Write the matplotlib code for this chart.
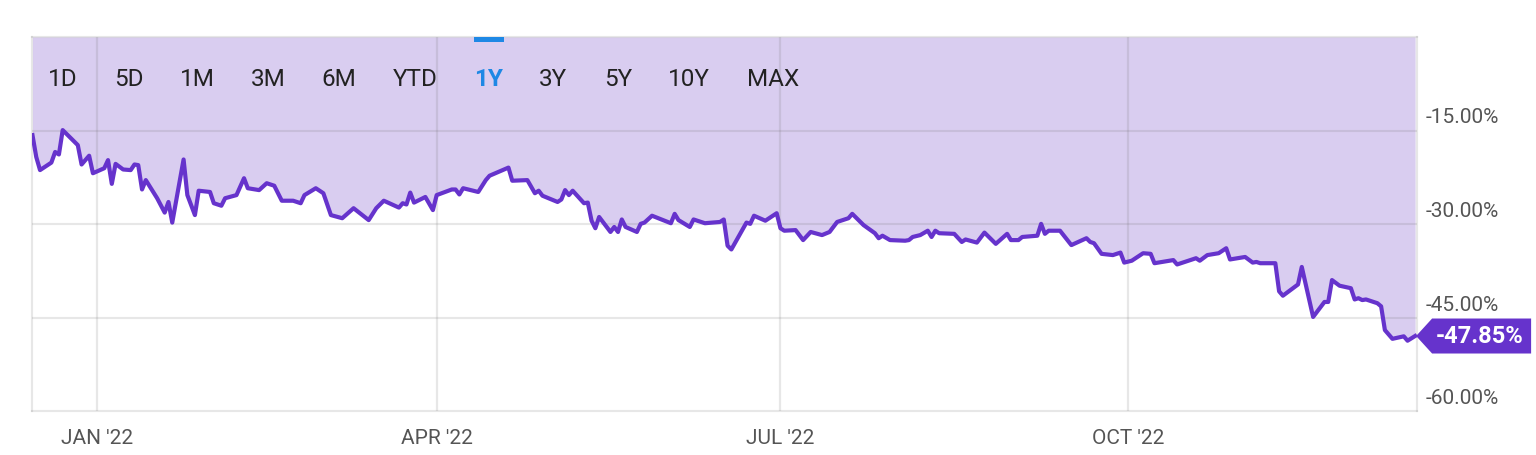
import matplotlib.pyplot as plt
import matplotlib.dates as mdates
from matplotlib.patches import Polygon, Rectangle
from matplotlib.transforms import IdentityTransform
import pandas as pd

plt.rcParams['font.family'] = ['Roboto', 'DejaVu Sans']

# price change over one year, %
dates = [
    '2021-12-15', '2021-12-16', '2021-12-17', '2021-12-20', '2021-12-21', '2021-12-22',
    '2021-12-23', '2021-12-27', '2021-12-28', '2021-12-30', '2021-12-31', '2022-01-03',
    '2022-01-04', '2022-01-05', '2022-01-06', '2022-01-08', '2022-01-10', '2022-01-11',
    '2022-01-12', '2022-01-13', '2022-01-14', '2022-01-17', '2022-01-19', '2022-01-20',
    '2022-01-21', '2022-01-24', '2022-01-25', '2022-01-27', '2022-01-28', '2022-01-31',
    '2022-02-01', '2022-02-03', '2022-02-04', '2022-02-07', '2022-02-09', '2022-02-10',
    '2022-02-13', '2022-02-15', '2022-02-17', '2022-02-19', '2022-02-22', '2022-02-24',
    '2022-02-25', '2022-02-28', '2022-03-02', '2022-03-04', '2022-03-07', '2022-03-10',
    '2022-03-14', '2022-03-16', '2022-03-18', '2022-03-22', '2022-03-23', '2022-03-24',
    '2022-03-25', '2022-03-26', '2022-03-29', '2022-03-31', '2022-04-01', '2022-04-05',
    '2022-04-06', '2022-04-07', '2022-04-08', '2022-04-12', '2022-04-14', '2022-04-15',
    '2022-04-20', '2022-04-21', '2022-04-25', '2022-04-27', '2022-04-28', '2022-04-29',
    '2022-05-03', '2022-05-04', '2022-05-05', '2022-05-06', '2022-05-07', '2022-05-10',
    '2022-05-11', '2022-05-12', '2022-05-13', '2022-05-14', '2022-05-17', '2022-05-18',
    '2022-05-19', '2022-05-20', '2022-05-21', '2022-05-24', '2022-05-25', '2022-05-26',
    '2022-05-28', '2022-06-02', '2022-06-03', '2022-06-04', '2022-06-07', '2022-06-08',
    '2022-06-11', '2022-06-15', '2022-06-16', '2022-06-17', '2022-06-18', '2022-06-22',
    '2022-06-23', '2022-06-24', '2022-06-27', '2022-06-30', '2022-07-01', '2022-07-02',
    '2022-07-05', '2022-07-07', '2022-07-09', '2022-07-12', '2022-07-14', '2022-07-16',
    '2022-07-19', '2022-07-20', '2022-07-23', '2022-07-26', '2022-07-27', '2022-07-28',
    '2022-07-30', '2022-08-03', '2022-08-04', '2022-08-05', '2022-08-07', '2022-08-09',
    '2022-08-10', '2022-08-11', '2022-08-12', '2022-08-16', '2022-08-18', '2022-08-19',
    '2022-08-22', '2022-08-24', '2022-08-27', '2022-08-30', '2022-08-31', '2022-09-02',
    '2022-09-03', '2022-09-07', '2022-09-08', '2022-09-09', '2022-09-10', '2022-09-13',
    '2022-09-16', '2022-09-20', '2022-09-21', '2022-09-22', '2022-09-24', '2022-09-27',
    '2022-09-29', '2022-09-30', '2022-10-02', '2022-10-05', '2022-10-07', '2022-10-08',
    '2022-10-13', '2022-10-14', '2022-10-19', '2022-10-20', '2022-10-22', '2022-10-25',
    '2022-10-27', '2022-10-28', '2022-11-01', '2022-11-03', '2022-11-04', '2022-11-05',
    '2022-11-09', '2022-11-10', '2022-11-11', '2022-11-15', '2022-11-16', '2022-11-19',
    '2022-11-22', '2022-11-23', '2022-11-24', '2022-11-26', '2022-11-29', '2022-11-30',
    '2022-12-01', '2022-12-02', '2022-12-03', '2022-12-06', '2022-12-07', '2022-12-08',
    '2022-12-10', '2022-12-13', '2022-12-14', '2022-12-16',
]
pct = [
    -15.7, -19.2, -21.3, -20.1, -18.4, -18.8,
    -14.9, -17.3, -20.4, -19.0, -21.8, -21.0,
    -19.7, -23.5, -20.3, -21.2, -21.3, -20.4,
    -20.5, -24.4, -22.9, -25.8, -28.1, -26.4,
    -29.7, -19.6, -25.3, -28.5, -24.6, -24.8,
    -26.6, -27.0, -25.8, -25.3, -22.6, -24.2,
    -24.5, -23.4, -23.8, -26.2, -26.2, -26.6,
    -25.3, -24.2, -25.0, -28.5, -29.0, -27.4,
    -29.3, -27.4, -26.2, -27.3, -26.6, -26.8,
    -24.9, -26.5, -25.6, -27.7, -25.3, -24.4,
    -24.4, -25.2, -24.2, -24.8, -22.9, -22.2,
    -20.9, -23.0, -22.9, -25.0, -24.6, -25.4,
    -26.4, -26.0, -24.5, -25.3, -24.6, -26.6,
    -26.5, -29.4, -30.6, -28.8, -31.2, -30.4,
    -31.2, -29.2, -30.4, -31.2, -29.9, -29.7,
    -28.6, -29.8, -28.3, -29.3, -30.4, -29.2,
    -29.8, -29.6, -29.2, -33.4, -34.0, -29.7,
    -29.9, -28.6, -29.4, -28.2, -30.6, -31.0,
    -30.9, -32.5, -31.2, -31.7, -31.2, -29.6,
    -29.0, -28.3, -30.1, -31.4, -32.2, -31.8,
    -32.5, -32.6, -32.5, -32.0, -31.7, -31.0,
    -32.0, -31.0, -31.4, -31.5, -32.8, -32.4,
    -32.9, -31.3, -33.1, -31.5, -32.5, -32.5,
    -32.0, -31.8, -29.9, -31.5, -31.0, -31.0,
    -33.3, -32.2, -32.8, -33.0, -34.7, -34.9,
    -34.5, -36.1, -35.8, -34.6, -34.7, -36.2,
    -35.7, -36.4, -35.4, -35.8, -34.9, -34.6,
    -33.8, -35.6, -35.2, -36.1, -36.0, -36.2,
    -36.2, -40.7, -41.4, -39.6, -36.8, -44.8,
    -42.4, -42.4, -38.9, -39.8, -40.2, -42.0,
    -41.8, -42.1, -42.0, -42.6, -43.1, -46.9,
    -48.3, -47.9, -48.6, -47.85,
]

ytick_vals = [-15, -30, -45, -60]
xtick_dates = ['2022-01-01', '2022-04-01', '2022-07-01', '2022-10-01']
xtick_labels = ["JAN '22", "APR '22", "JUL '22", "OCT '22"]
ranges = ['1D', '5D', '1M', '3M', '6M', 'YTD', '1Y', '3Y', '5Y', '10Y', 'MAX']
range_px = [63, 129, 197, 268, 339, 415, 489, 553, 618, 689, 773]
active_range = '1Y'

line_col = '#6633cc'
fill_col = '#d9cdf0'
grid_col = (0.42, 0.42, 0.42, 0.16)
blue = '#1e88e5'

x = pd.to_datetime(dates)

fig = plt.figure(figsize=(15.36, 4.55), dpi=100)
W, H = 1536, 455
ax = fig.add_axes([32 / W, 44 / H, 1385 / W, 374 / H])

ax.fill_between(x, pct, 0, color=fill_col, lw=0, zorder=1)
ax.plot(x, pct, color=line_col, lw=3.0, zorder=4, solid_joinstyle='round')

ax.set_ylim(-59.85, 0)
ax.set_xlim(x[0] - pd.Timedelta(hours=3), x[-1] + pd.Timedelta(hours=12))

for yv in ytick_vals[:-1]:
    ax.axhline(yv, color=grid_col, lw=1.5, zorder=2)
for d in pd.to_datetime(xtick_dates):
    ax.axvline(d, color=grid_col, lw=1.6, zorder=2)

for s in ax.spines.values():
    s.set_color(grid_col)
    s.set_linewidth(1.5)
ax.set_xticks([])
ax.set_yticks([])

for yv in ytick_vals:
    ax.annotate(f'{yv:.2f}%', xy=(1, yv), xycoords=('axes fraction', 'data'),
                xytext=(6.5, 9.5), textcoords='offset points',
                ha='left', va='center', fontsize=15, color='#555555',
                annotation_clip=False)

for d, lab in zip(pd.to_datetime(xtick_dates), xtick_labels):
    ax.annotate(lab, xy=(d, 0), xycoords=('data', 'axes fraction'),
                xytext=(0, -19.5), textcoords='offset points',
                ha='center', va='center', fontsize=15, color='#555555',
                annotation_clip=False)

# range selector
for lab, px in zip(ranges, range_px):
    active = lab == active_range
    fig.text(px / W, 1 - 79 / H, lab, ha='center', va='center', fontsize=17.5,
             color=blue if active else '#222222',
             fontweight='bold' if active else 'normal')
    if active:
        fig.add_artist(Rectangle(((px - 15) / W, 1 - 42 / H), 30 / W, 5 / H,
                                 transform=fig.transFigure, color=blue, lw=0, zorder=6))

# last value tag
xd, yd = ax.transData.transform((mdates.date2num(x[-1]), pct[-1]))
tag = Polygon([[xd + 1, yd], [xd + 17, yd + 17.5], [xd + 116, yd + 17.5],
               [xd + 116, yd - 17.5], [xd + 17, yd - 17.5]],
              closed=True, transform=IdentityTransform(), color=line_col, lw=0, zorder=5)
fig.add_artist(tag)
fig.text(xd + 65, yd, f'{pct[-1]:.2f}%', transform=IdentityTransform(),
         ha='center', va='center', fontsize=17, fontweight='bold',
         color='white', zorder=7)

fig.savefig('out.png', dpi=100)
